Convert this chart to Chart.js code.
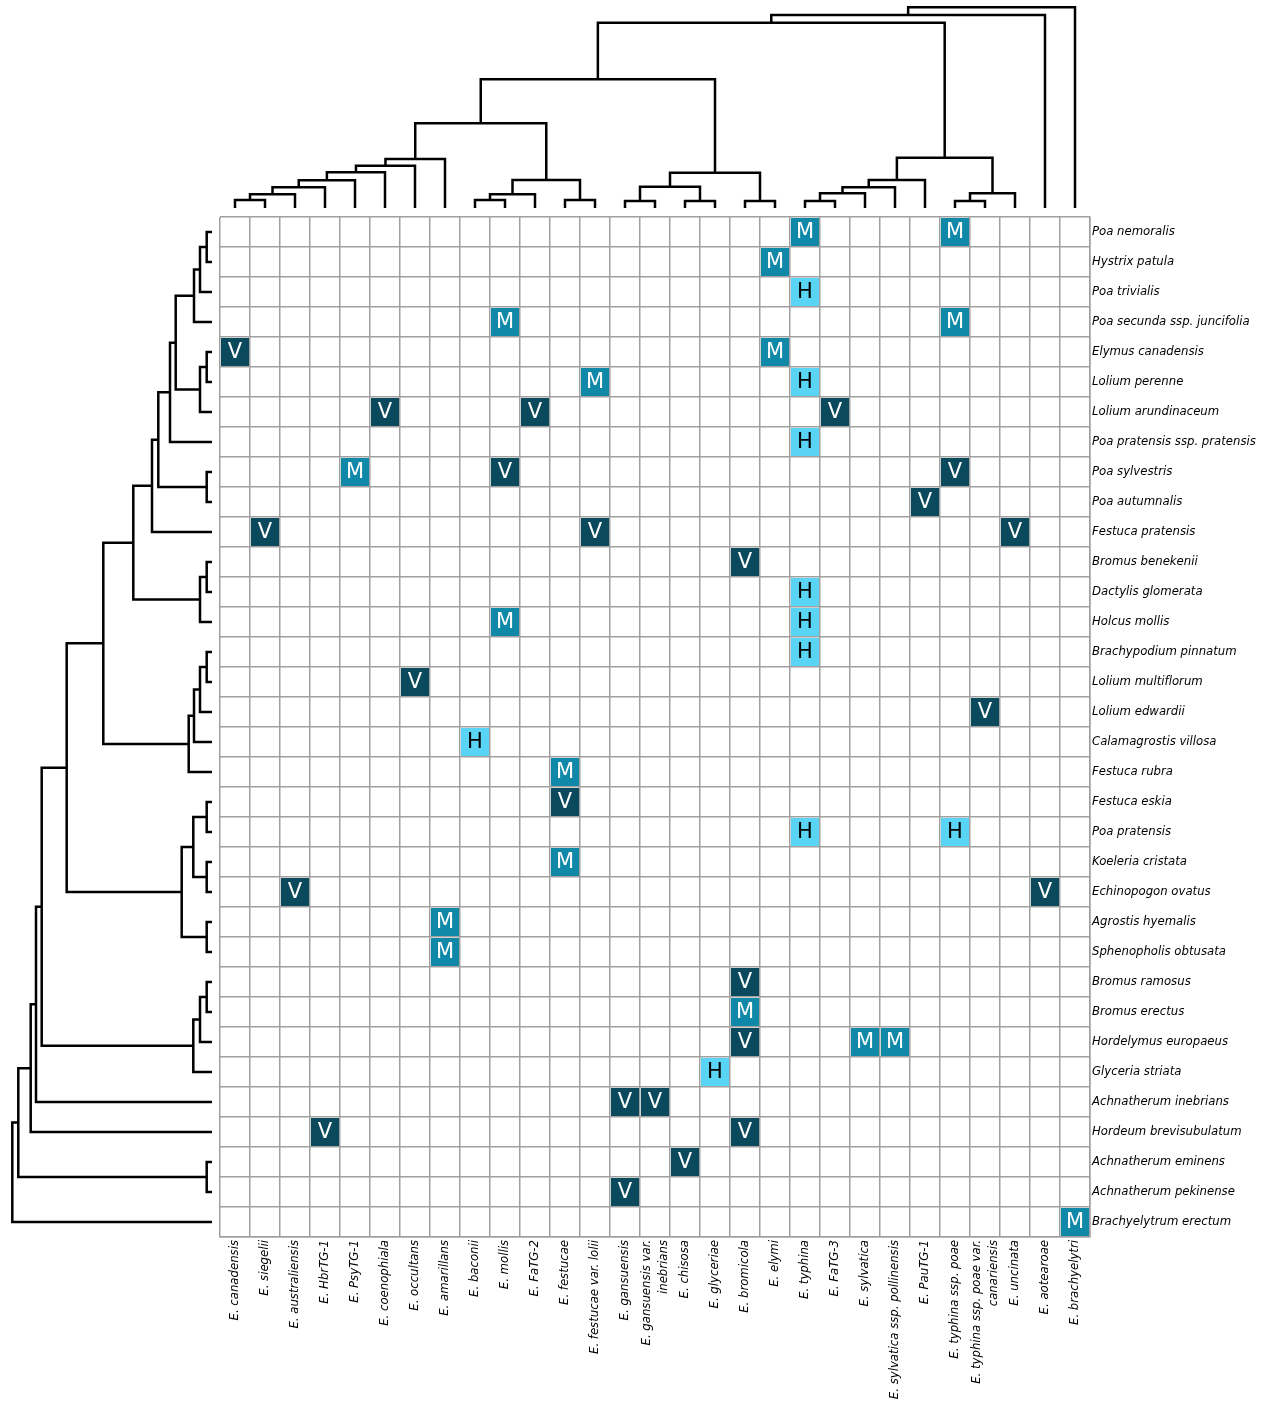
<!DOCTYPE html>
<html lang="es">
<head>
<meta charset="UTF-8">
<title>Epichloë y hospedadores</title>
<script src="https://cdn.jsdelivr.net/npm/chart.js@4.4.1/dist/chart.umd.min.js"></script>
<style>
    html, body { margin: 0; padding: 0; background: #ffffff; }
    #lienzo { position: relative; width: 1270px; height: 1403px; }
    canvas { position: absolute; }
    #mainChart { left: 0; top: 0; }
    #topTree { left: 220px; top: 0; }
    #leftTree { left: 0; top: 217px; }
</style>
</head>
<body>
<div id="lienzo">
    <canvas id="mainChart" width="1270" height="1403"></canvas>
    <canvas id="topTree" width="870" height="217"></canvas>
    <canvas id="leftTree" width="220" height="1020"></canvas>
</div>
<script>
// DATOS: columnas (endófitos) y filas (hospedadores)
const endofitos = [
    'E. canadensis', 'E. siegelii', 'E. australiensis', 'E. HbrTG-1', 'E. PsyTG-1',
    'E. coenophiala', 'E. occultans', 'E. amarillans', 'E. baconii', 'E. mollis',
    'E. FaTG-2', 'E. festucae', 'E. festucae var. lolii', 'E. gansuensis',
    'E. gansuensis var. inebrians', 'E. chisosa', 'E. glyceriae', 'E. bromicola',
    'E. elymi', 'E. typhina', 'E. FaTG-3', 'E. sylvatica', 'E. sylvatica ssp. pollinensis',
    'E. PauTG-1', 'E. typhina ssp. poae', 'E. typhina ssp. poae var. canariensis',
    'E. uncinata', 'E. aotearoae', 'E. brachyelytri'
];

// Etiquetas tal como se ven (algunas en dos líneas)
const etiquetasX = endofitos.map(n =>
    n === 'E. gansuensis var. inebrians' ? ['E. gansuensis var.', 'inebrians'] :
    n === 'E. typhina ssp. poae var. canariensis' ? ['E. typhina ssp. poae var.', 'canariensis'] : n);

const hospedadores = [
    'Poa nemoralis', 'Hystrix patula', 'Poa trivialis', 'Poa secunda ssp. juncifolia',
    'Elymus canadensis', 'Lolium perenne', 'Lolium arundinaceum', 'Poa pratensis ssp. pratensis',
    'Poa sylvestris', 'Poa autumnalis', 'Festuca pratensis', 'Bromus benekenii',
    'Dactylis glomerata', 'Holcus mollis', 'Brachypodium pinnatum', 'Lolium multiflorum',
    'Lolium edwardii', 'Calamagrostis villosa', 'Festuca rubra', 'Festuca eskia',
    'Poa pratensis', 'Koeleria cristata', 'Echinopogon ovatus', 'Agrostis hyemalis',
    'Sphenopholis obtusata', 'Bromus ramosus', 'Bromus erectus', 'Hordelymus europaeus',
    'Glyceria striata', 'Achnatherum inebrians', 'Hordeum brevisubulatum',
    'Achnatherum eminens', 'Achnatherum pekinense', 'Brachyelytrum erectum'
];

// Celdas por tipo: [fila, columna]
const celdasM = [
    [0, 19], [0, 24], [1, 18], [3, 9], [3, 24], [4, 18], [5, 12], [8, 4], [13, 9],
    [18, 11], [21, 11], [23, 7], [24, 7], [26, 17], [27, 21], [27, 22], [33, 28]
];
const celdasH = [
    [2, 19], [5, 19], [7, 19], [12, 19], [13, 19], [14, 19], [17, 8], [20, 19], [20, 24], [28, 16]
];
const celdasV = [
    [4, 0], [6, 5], [6, 10], [6, 20], [8, 9], [8, 24], [9, 23], [10, 1], [10, 12], [10, 26],
    [11, 17], [15, 6], [16, 25], [19, 11], [22, 2], [22, 27], [25, 17], [27, 17], [29, 13],
    [29, 14], [30, 3], [30, 17], [31, 15], [32, 13]
];

// Dendrograma superior: [hijoA, hijoB, altura] (ids >= 29 son uniones previas)
const arbolColumnas = [
    [0, 1, 8], [29, 2, 13.7], [30, 3, 20.7], [31, 4, 27.7], [32, 5, 35.7], [33, 6, 42.3],
    [34, 7, 49], [8, 9, 8], [36, 10, 13.7], [11, 12, 8], [37, 38, 28], [35, 39, 84.7],
    [13, 14, 7], [15, 16, 7], [41, 42, 21.3], [17, 18, 7], [43, 44, 35.3], [40, 45, 128.7],
    [19, 20, 7], [47, 21, 14.7], [48, 22, 20.7], [49, 23, 28], [24, 25, 7], [51, 26, 14.7],
    [50, 52, 50.3], [46, 53, 185.3], [54, 27, 193], [55, 28, 200.7]
];

// Dendrograma izquierdo: [hijoA, hijoB, altura] (ids >= 34 son uniones previas)
const arbolFilas = [
    [0, 1, 5.3], [34, 2, 12], [35, 3, 18], [4, 5, 5.3], [37, 6, 12], [36, 38, 36.3],
    [39, 7, 42], [8, 9, 5.3], [40, 41, 53.7], [42, 10, 60], [11, 12, 5.3], [44, 13, 12],
    [43, 45, 78.7], [14, 15, 5.3], [47, 16, 12], [48, 17, 18], [49, 18, 23.3], [46, 50, 108.7],
    [19, 20, 5.3], [21, 22, 5.3], [52, 53, 18.7], [23, 24, 5.3], [54, 55, 30.3], [51, 56, 145.3],
    [25, 26, 5.3], [58, 27, 12], [59, 28, 18.7], [57, 60, 170.3], [61, 29, 176], [62, 30, 181.3],
    [31, 32, 5.3], [63, 64, 193.7], [65, 33, 199.7]
];

// Colores por tipo
const tipos = [
    { letra: 'M', celdas: celdasM, fondo: '#1088a8', texto: '#ffffff' },
    { letra: 'H', celdas: celdasH, fondo: '#5ad4f5', texto: '#000000' },
    { letra: 'V', celdas: celdasV, fondo: '#0b4a5c', texto: '#ffffff' }
];

const fuenteEtiquetas = { family: '"DejaVu Sans Condensed", "DejaVu Sans"', size: 13, style: 'italic' };
const colorRejilla = '#a0a0a0';

// Plugin para escribir la letra encima de cada celda
const letrasPlugin = {
    id: 'letras',
    afterDatasetsDraw(chart) {
        const ctx = chart.ctx;
        ctx.save();
        ctx.font = '21px "DejaVu Sans"';
        ctx.textAlign = 'center';
        ctx.textBaseline = 'middle';
        chart.data.datasets.forEach((ds, i) => {
            ctx.fillStyle = ds.textColor;
            chart.getDatasetMeta(i).data.forEach(pt => ctx.fillText(ds.label, pt.x, pt.y + 1));
        });
        ctx.restore();
    }
};

// Centrar en su columna las etiquetas de dos líneas
const centrarPlugin = {
    id: 'centrar',
    beforeDraw(chart) {
        chart.scales.x.getLabelItems().forEach(item => {
            if (Array.isArray(item.label) && !item.centrado) {
                item.options.translation[0] -= (item.label.length - 1) * item.font.lineHeight / 2;
                item.centrado = true;
            }
        });
    }
};

// 1. Matriz principal
new Chart(document.getElementById('mainChart'), {
    type: 'scatter',
    data: {
        datasets: tipos.map(t => ({
            label: t.letra,
            textColor: t.texto,
            data: t.celdas.map(([f, c]) => ({ x: endofitos[c], y: hospedadores[f] })),
            pointStyle: 'rect',
            pointRadius: 19.8,
            pointHoverRadius: 19.8,
            backgroundColor: t.fondo,
            borderWidth: 0
        }))
    },
    options: {
        responsive: false,
        animation: false,
        devicePixelRatio: 1,
        events: [],
        layout: { padding: { left: 220, top: 217, right: 0, bottom: 0 } },
        plugins: { legend: { display: false }, tooltip: { enabled: false } },
        scales: {
            x: {
                type: 'category',
                labels: endofitos,
                position: 'bottom',
                offset: true,
                grid: { offset: true, color: colorRejilla, lineWidth: 1.5, drawTicks: false },
                border: { color: colorRejilla, width: 1.5 },
                ticks: {
                    autoSkip: false, minRotation: 90, maxRotation: 90, padding: 3,
                    color: '#000', font: { ...fuenteEtiquetas, lineHeight: 1.35 },
                    callback: (v, i) => etiquetasX[i]
                },
                afterFit: s => { s.height = 166; }
            },
            y: {
                type: 'category',
                labels: hospedadores,
                position: 'right',
                offset: true,
                grid: { offset: true, color: colorRejilla, lineWidth: 1.5, drawTicks: false },
                border: { color: colorRejilla, width: 1.5 },
                ticks: {
                    autoSkip: false, padding: 2, color: '#000', font: fuenteEtiquetas,
                    callback: (v, i) => hospedadores[i]
                },
                afterFit: s => { s.width = 180; }
            }
        }
    },
    plugins: [letrasPlugin, centrarPlugin]
});

// Convierte las uniones en tramos en forma de U
function tramosArbol(uniones, nHojas) {
    const pos = [], alt = [];
    for (let i = 0; i < nHojas; i++) { pos.push(i); alt.push(0); }
    const tramos = [];
    uniones.forEach(([a, b, h]) => {
        tramos.push([[pos[a], alt[a]], [pos[a], h], [pos[b], h], [pos[b], alt[b]]]);
        pos.push((pos[a] + pos[b]) / 2);
        alt.push(h);
    });
    return tramos;
}

function datasetsArbol(tramos, vertical) {
    return tramos.map(t => ({
        data: t.map(([p, h]) => vertical ? { x: p, y: h } : { x: h, y: p }),
        showLine: true,
        borderColor: '#000',
        borderWidth: 2.5,
        borderJoinStyle: 'miter',
        pointRadius: 0,
        clip: false
    }));
}

const opcionesArbol = (padding, escalas) => ({
    responsive: false,
    animation: false,
    devicePixelRatio: 1,
    events: [],
    layout: { padding },
    plugins: { legend: { display: false }, tooltip: { enabled: false } },
    scales: escalas
});

// 2. Dendrograma de columnas
new Chart(document.getElementById('topTree'), {
    type: 'scatter',
    data: { datasets: datasetsArbol(tramosArbol(arbolColumnas, endofitos.length), true) },
    options: opcionesArbol({ top: 7, bottom: 9, left: 0, right: 0 }, {
        x: { type: 'linear', display: false, min: -0.5, max: endofitos.length - 0.5 },
        y: { type: 'linear', display: false, min: 0, max: 201 }
    })
});

// 3. Dendrograma de filas
new Chart(document.getElementById('leftTree'), {
    type: 'scatter',
    data: { datasets: datasetsArbol(tramosArbol(arbolFilas, hospedadores.length), false) },
    options: opcionesArbol({ top: 0, bottom: 0, left: 12, right: 8 }, {
        x: { type: 'linear', display: false, min: 0, max: 200, reverse: true },
        y: { type: 'linear', display: false, min: -0.5, max: hospedadores.length - 0.5, reverse: true }
    })
});
</script>
</body>
</html>
